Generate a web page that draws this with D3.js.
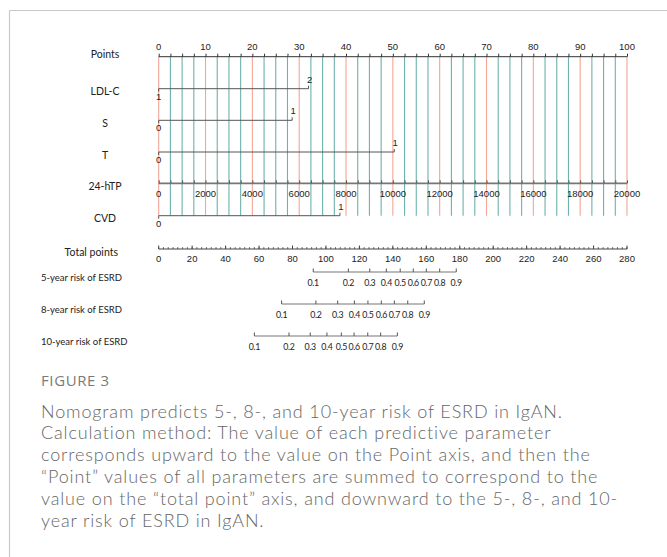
<!DOCTYPE html>
<html><head><meta charset="utf-8">
<script src="https://cdn.jsdelivr.net/npm/d3@7"></script>
<style>
html,body{margin:0;padding:0;background:#fff;}
svg{display:block;}
</style></head>
<body>
<svg id="chart" width="667" height="557"></svg>
<script>
// ---- data ----
const pointsTicks = [0,10,20,30,40,50,60,70,80,90,100];
const pointsGrid = d3.range(0, 100.01, 2.5);
const rowLabels = ["Points","LDL-C","S","T","24-hTP","CVD"];
const ldlLevels = ["1","2"];   const ldlPoints = [0, 32];
const sLevels   = ["0","1"];   const sPoints   = [0, 28.5];
const tLevels   = ["0","1"];   const tPoints   = [0, 50.3];
const cvdLevels = ["0","1"];   const cvdPoints = [0, 38.7];
const htpTicks  = [0,2000,4000,6000,8000,10000,12000,14000,16000,18000,20000];
const htpMinor  = d3.range(0, 20001, 500);
const totalTicks = [0,20,40,60,80,100,120,140,160,180,200,220,240,260,280];
const totalMinor = d3.range(0, 280.01, 20/7);
const riskProbs = ["0.1","0.2","0.3","0.4","0.5","0.6","0.7","0.8","0.9"];
const risk5Total  = [92.4,113.4,126.2,136.1,144.4,152.2,160.0,168.0,177.9];
const risk8Total  = [73.5,94.0,107.0,117.0,125.1,133.1,140.9,148.9,158.8];
const risk10Total = [57.2,77.9,90.6,100.6,109.2,116.8,125.0,132.7,142.7];
const riskLabels = ["5-year risk of ESRD","8-year risk of ESRD","10-year risk of ESRD"];
const captionTitle = "FIGURE 3";
const captionLines = [
 "Nomogram predicts 5-, 8-, and 10-year risk of ESRD in IgAN.",
 "Calculation method: The value of each predictive parameter",
 "corresponds upward to the value on the Point axis, and then the",
 "\u201CPoint\u201D values of all parameters are summed to correspond to the",
 "value on the \u201Ctotal point\u201D axis, and downward to the 5-, 8-, and 10-",
 "year risk of ESRD in IgAN."
];

// ---- layout ----
const svg = d3.select("#chart");
const X0 = 158.7, X1 = 627;
const xP = d3.scaleLinear().domain([0,100]).range([X0,X1]);
const xH = d3.scaleLinear().domain([0,20000]).range([X0,X1]);
const xT = d3.scaleLinear().domain([0,280]).range([X0,X1]);
const rowY = {Points:56.7, "LDL-C":88.7, S:120.3, T:152, "24-hTP":183.3, CVD:215.7};
const totalY = 249;
const riskY = [272, 304, 336];
const tickFont = "'Liberation Sans', Arial, sans-serif";
const labFont = "Lato, 'Open Sans', sans-serif";

// frame
svg.append("line").attr("x1",9.5).attr("x2",667).attr("y1",10.5).attr("y2",10.5).attr("stroke","#c8c8c8").attr("stroke-width",1.2);
svg.append("line").attr("x1",9.5).attr("x2",9.5).attr("y1",10.5).attr("y2",557).attr("stroke","#c8c8c8").attr("stroke-width",1.2);

// grid lines
svg.append("g").selectAll("line").data(pointsGrid).join("line")
  .attr("x1",d=>xP(d)).attr("x2",d=>xP(d))
  .attr("y1",rowY.Points).attr("y2",rowY.CVD)
  .attr("stroke",d=> d%10===0 ? "#f3a596" : "#6db2ac")
  .attr("stroke-width",1.1);

// row labels
svg.append("g").selectAll("text").data(rowLabels).join("text")
  .attr("x",105).attr("y",d=> rowY[d] + (d==="Points"? -3 : 2.5))
  .attr("text-anchor","middle").attr("dominant-baseline","central")
  .attr("font-family",labFont).attr("font-size",10.5).attr("fill","#222")
  .text(d=>d);
svg.append("text").attr("x",118).attr("y",totalY+2.5).attr("text-anchor","end")
  .attr("dominant-baseline","central").attr("font-family",labFont).attr("font-size",10.5).attr("fill","#222")
  .text("Total points");

// Points axis
const gP = svg.append("g").attr("transform",`translate(0,${rowY.Points})`);
gP.call(d3.axisTop(xP).tickValues(pointsGrid).tickSize(3).tickFormat(""));
gP.selectAll("path").attr("stroke","#333").attr("d",`M${X0},0H${X1}`);
gP.selectAll(".tick line").attr("stroke","#333");
gP.append("g").selectAll("text").data(pointsTicks).join("text")
  .attr("x",d=>xP(d)).attr("y",-7).attr("text-anchor","middle")
  .attr("font-family",tickFont).attr("font-size",9.5).attr("fill","#222").text(d=>d);

// categorical predictor axes
function catAxis(name, levels, pts){
  const y = rowY[name];
  const g = svg.append("g");
  g.append("line").attr("x1",xP(pts[0])).attr("x2",xP(pts[pts.length-1]))
   .attr("y1",y).attr("y2",y).attr("stroke","#555").attr("stroke-width",1);
  levels.forEach((lv,i)=>{
    const up = i%2===1;
    g.append("line").attr("x1",xP(pts[i])).attr("x2",xP(pts[i]))
      .attr("y1",y).attr("y2",up? y-3 : y+3).attr("stroke","#555");
    g.append("text").attr("x",xP(pts[i]) + (i===0? 0 : 1)).attr("y", up? y-6 : y+11)
      .attr("text-anchor","middle").attr("font-family",tickFont).attr("font-size",9.5).attr("fill","#222")
      .text(lv);
  });
}
catAxis("LDL-C", ldlLevels, ldlPoints);
catAxis("S", sLevels, sPoints);
catAxis("T", tLevels, tPoints);
catAxis("CVD", cvdLevels, cvdPoints);

// 24-hTP axis
const gH = svg.append("g").attr("transform",`translate(0,${rowY["24-hTP"]})`);
gH.call(d3.axisTop(xH).tickValues(htpMinor).tickSize(3).tickFormat(""));
gH.selectAll("path").attr("stroke","#777").attr("stroke-width",1.8).attr("d",`M${X0},0H${X1}`);
gH.selectAll(".tick line").attr("stroke","#555");
gH.append("g").selectAll("text").data(htpTicks).join("text")
  .attr("x",d=>xH(d)).attr("y",13.5).attr("text-anchor","middle")
  .attr("font-family",tickFont).attr("font-size",9.5).attr("fill","#222").text(d=>d);

// Total points axis
const gT = svg.append("g").attr("transform",`translate(0,${totalY})`);
gT.append("line").attr("x1",X0).attr("x2",X1).attr("stroke","#444");
gT.append("g").selectAll("line").data(totalMinor).join("line")
  .attr("x1",d=>xT(d)).attr("x2",d=>xT(d)).attr("y1",0).attr("y2",-1.8).attr("stroke","#555");
gT.append("g").selectAll("line").data(totalTicks).join("line")
  .attr("x1",d=>xT(d)).attr("x2",d=>xT(d)).attr("y1",0).attr("y2",-3.5).attr("stroke","#444");
gT.append("g").selectAll("text").data(totalTicks).join("text")
  .attr("x",d=>xT(d)).attr("y",12.5).attr("text-anchor","middle")
  .attr("font-family",tickFont).attr("font-size",9.5).attr("fill","#222").text(d=>d);

// risk axes
[risk5Total, risk8Total, risk10Total].forEach((vals,k)=>{
  const y = riskY[k];
  const g = svg.append("g").attr("transform",`translate(0,${y})`);
  g.append("line").attr("x1",xT(vals[0])).attr("x2",xT(vals[vals.length-1])).attr("stroke","#777").attr("stroke-width",1.1);
  g.append("g").selectAll("line").data(vals).join("line")
   .attr("x1",d=>xT(d)).attr("x2",d=>xT(d)).attr("y1",0).attr("y2",-3.5).attr("stroke","#555");
  g.append("g").selectAll("text").data(vals).join("text")
   .attr("x",d=>xT(d)).attr("y",14).attr("text-anchor","middle")
   .attr("font-family",labFont).attr("font-size",8.8).attr("letter-spacing",-0.35).attr("fill","#222")
   .text((d,i)=>riskProbs[i]);
  svg.append("text").attr("x",41).attr("y",y+5).attr("dominant-baseline","central")
   .attr("font-family",labFont).attr("font-size",9.5).attr("fill","#222").text(riskLabels[k]);
});

// caption
svg.append("text").attr("x",41).attr("y",386).attr("font-family","'Open Sans', Lato, sans-serif")
  .attr("font-size",15).attr("fill","#7a7a7a").attr("letter-spacing",0.6).text(captionTitle);
svg.append("g").selectAll("text").data(captionLines).join("text")
  .attr("x",41).attr("y",(d,i)=>417.5 + i*21.8)
  .attr("font-family","Lato, 'Open Sans', sans-serif").attr("font-weight",300)
  .attr("font-size",18).attr("letter-spacing",0.85).attr("fill","#666").text(d=>d);
</script>
</body></html>
